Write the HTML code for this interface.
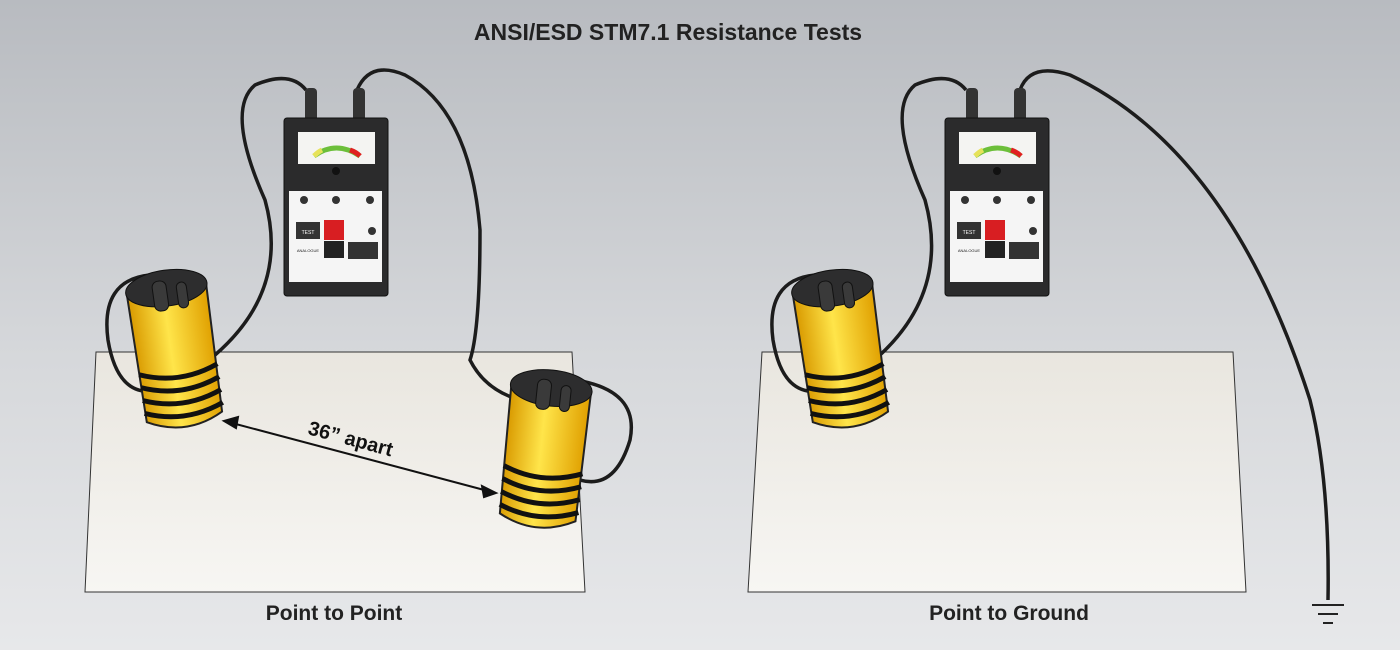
<!DOCTYPE html>
<html><head><meta charset="utf-8"><style>
html,body{margin:0;padding:0;width:1400px;height:650px;overflow:hidden}
body{background:linear-gradient(#b8bbc0,#d6d8db 55%,#e7e8ea);font-family:"Liberation Sans",sans-serif}
</style></head><body>
<svg width="1400" height="650" viewBox="0 0 1400 650" xmlns="http://www.w3.org/2000/svg">
<defs>
<linearGradient id="yel" x1="0" x2="1">
<stop offset="0" stop-color="#d99a00"/><stop offset="0.45" stop-color="#ffe54a"/><stop offset="1" stop-color="#e0a000"/></linearGradient>
<linearGradient id="plate" x1="0" y1="0" x2="0" y2="1"><stop offset="0" stop-color="#e9e6df"/><stop offset="1" stop-color="#f7f6f3"/></linearGradient>
<g id="meter">
<rect x="21" y="-30" width="12" height="35" rx="4" fill="#333"/>
<rect x="69" y="-30" width="12" height="35" rx="4" fill="#333"/>
<rect x="0" y="0" width="104" height="178" rx="3" fill="#2b2b2c" stroke="#111"/>
<rect x="14" y="14" width="77" height="32" fill="#f4f4f2"/>
<path d="M30 38 Q52 22 76 38" stroke="#6cbf3a" stroke-width="5" fill="none"/>
<path d="M66 32 Q72 34 76 38" stroke="#e02020" stroke-width="5" fill="none"/>
<path d="M30 38 Q34 34 38 32" stroke="#e6e25a" stroke-width="5" fill="none"/>
<circle cx="52" cy="53" r="4" fill="#111"/>
<rect x="5" y="73" width="93" height="91" fill="#f5f5f5"/>
<circle cx="20" cy="82" r="4" fill="#333"/><circle cx="52" cy="82" r="4" fill="#333"/><circle cx="86" cy="82" r="4" fill="#333"/>
<rect x="12" y="104" width="24" height="17" fill="#333"/>
<text x="24" y="116" font-size="5" fill="#fff" text-anchor="middle">TEST</text>
<rect x="40" y="102" width="20" height="20" fill="#d81e22"/>
<circle cx="88" cy="113" r="4" fill="#333"/>
<rect x="40" y="123" width="20" height="17" fill="#222"/>
<rect x="64" y="124" width="30" height="17" fill="#333"/>
<text x="24" y="134" font-size="4" fill="#222" text-anchor="middle">ANALOGUE</text>
</g>
<g id="elec">
<path d="M-40 -10 L-38 118 Q0 138 38 118 L40 -10 Z" fill="url(#yel)" stroke="#222" stroke-width="2"/>
<g stroke="#111" stroke-width="5" fill="none">
<path d="M-39 70 Q0 86 40 70"/><path d="M-39 83 Q0 99 40 83"/><path d="M-39 96 Q0 112 40 96"/><path d="M-39 109 Q0 125 40 109"/>
</g>
<ellipse cx="0" cy="-12" rx="41" ry="18" fill="#2d2d2e" stroke="#111"/>
<rect x="-14" y="-20" width="14" height="30" rx="6" fill="#3a3a3a" stroke="#111"/>
<rect x="10" y="-16" width="10" height="26" rx="5" fill="#3a3a3a" stroke="#111"/>
</g>
</defs>

<text x="668" y="40" font-size="23" font-weight="bold" fill="#222" text-anchor="middle">ANSI/ESD STM7.1 Resistance Tests</text>

<polygon points="96,352 572,352 585,592 85,592" fill="url(#plate)" stroke="#333" stroke-width="1"/>
<polygon points="762,352 1233,352 1246,592 748,592" fill="url(#plate)" stroke="#333" stroke-width="1"/>

<g stroke="#1c1c1c" stroke-width="3.5" fill="none">
<path d="M306 90 Q290 70 255 85 Q225 110 265 200 Q290 290 215 355"/>
<path d="M357 90 Q370 60 405 75 Q470 110 480 230 Q480 330 470 360 Q485 390 520 400"/>
<path d="M966 90 Q950 70 915 85 Q885 110 925 200 Q950 290 880 355"/>
<path d="M1020 90 Q1030 62 1070 75 Q1230 150 1310 400 Q1330 480 1328 600"/>
<path d="M150 275 Q100 280 108 340 Q118 400 160 390"/>
<path d="M815 275 Q765 280 773 340 Q783 400 825 390"/>
<path d="M575 380 Q640 390 630 440 Q615 490 580 480"/>
</g>

<use href="#meter" x="284" y="118"/>
<use href="#meter" x="945" y="118"/>

<use href="#elec" transform="translate(168,300) rotate(-8)"/>
<use href="#elec" transform="translate(550,400) rotate(6)"/>
<use href="#elec" transform="translate(834,300) rotate(-8)"/>

<g stroke="#111" stroke-width="2">
<line x1="232" y1="423" x2="488" y2="491"/>
<polygon points="224,421 238,417 236,428" fill="#111"/>
<polygon points="496,493 482,486 484,497" fill="#111"/>
</g>
<text x="0" y="0" font-size="20" font-weight="bold" fill="#111" transform="translate(307,434) rotate(15)">36” apart</text>

<g stroke="#222" stroke-width="2">
<line x1="1312" y1="605" x2="1344" y2="605"/><line x1="1318" y1="614" x2="1338" y2="614"/><line x1="1323" y1="623" x2="1333" y2="623"/>
</g>

<text x="334" y="620" font-size="21" font-weight="bold" fill="#222" text-anchor="middle">Point to Point</text>
<text x="1009" y="620" font-size="21" font-weight="bold" fill="#222" text-anchor="middle">Point to Ground</text>
</svg>
</body></html>
